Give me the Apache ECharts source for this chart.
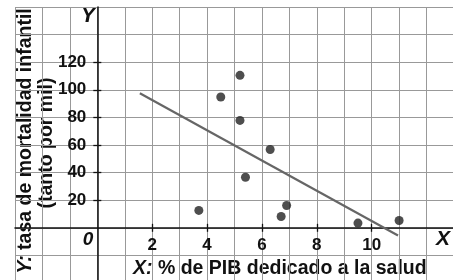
<!DOCTYPE html>
<html>
<head>
<meta charset="utf-8">
<script src="https://cdn.jsdelivr.net/npm/echarts@6/dist/echarts.min.js"></script>
<style>
  html, body { margin: 0; padding: 0; background: #fff; }
  #chart { width: 453px; height: 280px; }
</style>
</head>
<body>
<div id="chart"></div>
<script>
// X: % del PIB dedicado a la salud
var gastoSalud = [3.7, 4.5, 5.2, 5.2, 5.4, 6.3, 6.7, 6.9, 9.5, 11.0];
// Y: tasa de mortalidad infantil (tanto por mil)
var mortalidad = [12.6, 94.8, 110.5, 77.8, 36.6, 56.7, 8.2, 16.2, 3.4, 5.3];
// recta de regresión, extremos
var rectaX = [1.55, 10.96];
var rectaY = [97.5, -5.6];
// marcas de los ejes
var ticksX = [2, 4, 6, 8, 10];
var ticksY = [20, 40, 60, 80, 100, 120];

var FONT = 'Liberation Sans, Arial, sans-serif';
var INK = '#111';

// rejilla: x de -3 a 13, y de -40 a 160
var G = { left: 15, top: 7, width: 439, height: 276 };
var X_MIN = -3, X_MAX = 13, Y_MIN = -40, Y_MAX = 160;
var zeroX = G.left + (0 - X_MIN) / (X_MAX - X_MIN) * G.width;
var zeroY = G.top + (Y_MAX - 0) / (Y_MAX - Y_MIN) * G.height;

var puntos = gastoSalud.map(function (x, i) {
  return [x, mortalidad[i]];
});
var recta = rectaX.map(function (x, i) {
  return [x, rectaY[i]];
});

var chart = echarts.init(document.getElementById('chart'));

// ejes auxiliares: marcas (y etiquetas) colocadas sobre los ejes en cero
function tickAxis(isX, position, offset, values, withLabels) {
  return {
    type: 'value',
    min: isX ? X_MIN : Y_MIN,
    max: isX ? X_MAX : Y_MAX,
    position: position,
    offset: offset,
    axisLine: { show: false, onZero: false },
    axisTick: {
      show: true,
      length: 4,
      customValues: values,
      lineStyle: { color: INK, width: 1.3 }
    },
    axisLabel: {
      show: withLabels,
      customValues: values,
      margin: isX ? 9 : 11,
      color: INK,
      fontFamily: FONT,
      fontWeight: 'bold',
      fontSize: 17
    },
    splitLine: { show: false }
  };
}

chart.setOption({
  animation: false,
  grid: {
    left: G.left, top: G.top, width: G.width, height: G.height,
    outerBoundsMode: 'none', containLabel: false
  },
  xAxis: [{
    type: 'value',
    min: X_MIN,
    max: X_MAX,
    interval: 1,
    axisLine: { onZero: true, lineStyle: { color: INK, width: 1.5 } },
    axisTick: { show: false },
    axisLabel: { show: false },
    splitLine: { show: true, lineStyle: { color: '#999', width: 1 } }
  },
    tickAxis(true, 'bottom', zeroY - (G.top + G.height), ticksX, true),
    tickAxis(true, 'top', G.top - zeroY, ticksX, false)
  ],
  yAxis: [{
    type: 'value',
    min: Y_MIN,
    max: Y_MAX,
    interval: 20,
    axisLine: { onZero: true, lineStyle: { color: INK, width: 1.5 } },
    axisTick: { show: false },
    axisLabel: { show: false },
    splitLine: { show: true, lineStyle: { color: '#999', width: 1 } }
  },
    tickAxis(false, 'left', G.left - zeroX, ticksY, true),
    tickAxis(false, 'right', zeroX - (G.left + G.width), ticksY, false)
  ],
  series: [{
    type: 'line',
    data: recta,
    symbol: 'none',
    lineStyle: { color: '#666', width: 2.2 },
    z: 3
  }, {
    type: 'scatter',
    data: puntos,
    symbolSize: 9,
    itemStyle: { color: '#222' },
    z: 4
  }],
  graphic: [{
    type: 'text',
    x: 26,
    y: 141,
    rotation: Math.PI / 2,
    style: {
      text: '{i|Y:} tasa de mortalidad infantil',
      font: 'bold 19.5px ' + FONT,
      fill: INK,
      align: 'center',
      verticalAlign: 'middle',
      rich: { i: { fontStyle: 'italic', fontWeight: 'bold', fontSize: 19.5, fontFamily: FONT } }
    }
  }, {
    type: 'text',
    x: 47,
    y: 143,
    rotation: Math.PI / 2,
    style: {
      text: '(tanto por mil)',
      font: 'bold 19.5px ' + FONT,
      fill: INK,
      align: 'center',
      verticalAlign: 'middle'
    }
  }, {
    type: 'text',
    x: 133,
    y: 269,
    style: {
      text: '{i|X:} % de PIB dedicado a la salud',
      font: 'bold 19.5px ' + FONT,
      fill: INK,
      align: 'left',
      verticalAlign: 'middle',
      rich: { i: { fontStyle: 'italic', fontWeight: 'bold', fontSize: 19.5, fontFamily: FONT } }
    }
  }, {
    type: 'text',
    x: 88,
    y: 16,
    style: {
      text: 'Y',
      font: 'italic bold 22px ' + FONT,
      fill: INK,
      align: 'center',
      verticalAlign: 'middle'
    }
  }, {
    type: 'text',
    x: 443,
    y: 239,
    style: {
      text: 'X',
      font: 'italic bold 21px ' + FONT,
      fill: INK,
      align: 'center',
      verticalAlign: 'middle'
    }
  }, {
    type: 'text',
    x: 88,
    y: 240,
    style: {
      text: '0',
      font: 'italic bold 19px ' + FONT,
      fill: INK,
      align: 'center',
      verticalAlign: 'middle'
    }
  }]
});
</script>
</body>
</html>
